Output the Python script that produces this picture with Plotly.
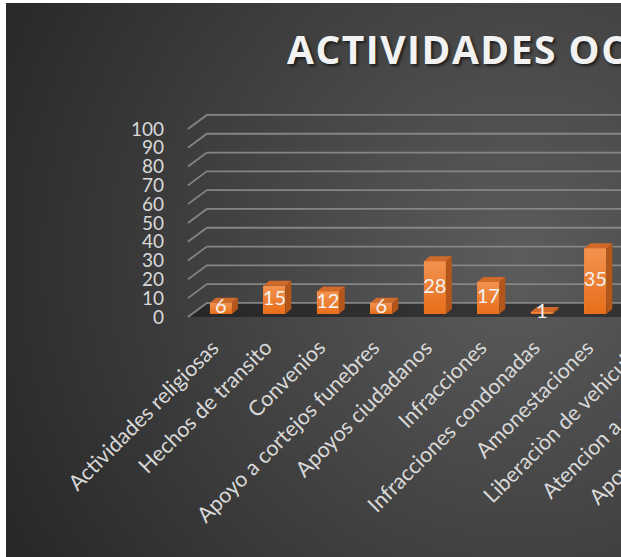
import base64
import plotly.graph_objects as go

# ---------------- data ----------------
TITLE = "ACTIVIDADES OCTUBRE"
CATEGORIES = [
    "Actividades religiosas",
    "Hechos de transito",
    "Convenios",
    "Apoyo a cortejos funebres",
    "Apoyos ciudadanos",
    "Infracciones",
    "Infracciones condonadas",
    "Amonestaciones",
    "Liberaciòn de vehiculos",
    "Atencion a ciudadanos",
    "Apoyos a dependencias",
]
VALUES = [6, 15, 12, 6, 28, 17, 1, 35]          # bars visible in the picture
Y_TICKS = [0, 10, 20, 30, 40, 50, 60, 70, 80, 90, 100]

# ---------------- style ----------------
W, H = 621, 557
FONT = "Lato"
TXT = "#d9d9d9"
ORANGE = "#ED7D31"
ORANGE_LIGHT = "#F3924F"
ORANGE_DARK = "#E76E1A"
ORANGE_TOP = "#D06A2A"
ORANGE_SIDE = "#B4561A"
GRID = "#858585"

X_RANGE = [-4.13, 7.48]       # front plane (bars)
Y_RANGE = [-127.7, 168.6]
BAR_W = 0.41
BAR_BASE = 1.6                # bars stand a little behind the front edge
SIDE_DX, SIDE_DY = 0.112, 2.66
WALL_X0, WALL_X1 = -0.617, -0.262
DEPTH_Y = 7.45
FAR_X = 20

fig = go.Figure()

idx = list(range(len(VALUES)))

# front faces
fig.add_trace(go.Bar(
    x=idx, y=VALUES, base=BAR_BASE, width=BAR_W,
    marker=dict(color=ORANGE, line=dict(width=0)),
    hoverinfo="skip", showlegend=False,
))

# gradient shading of each front face (same geometry as the bars)
for i, v in zip(idx, VALUES):
    l, r, t = i - BAR_W / 2, i + BAR_W / 2, BAR_BASE + v
    fig.add_trace(go.Scatter(
        x=[l, r, r, l, l], y=[BAR_BASE, BAR_BASE, t, t, BAR_BASE],
        mode="lines", fill="toself", line=dict(width=0),
        fillgradient=dict(type="vertical",
                          colorscale=[[0, ORANGE_DARK], [1, ORANGE_LIGHT]]),
        hoverinfo="skip", showlegend=False,
    ))

# side and top faces
side_x, side_y, top_x, top_y = [], [], [], []
for i, v in zip(idx, VALUES):
    r = i + BAR_W / 2
    l = i - BAR_W / 2
    t = BAR_BASE + v
    side_x += [r, r, r + SIDE_DX, r + SIDE_DX, r, None]
    side_y += [BAR_BASE, t, t + SIDE_DY, BAR_BASE + SIDE_DY, BAR_BASE, None]
    top_x += [l, r, r + SIDE_DX, l + SIDE_DX, l, None]
    top_y += [t, t, t + SIDE_DY, t + SIDE_DY, t, None]

fig.add_trace(go.Scatter(x=side_x, y=side_y, mode="lines", fill="toself",
                         fillcolor=ORANGE_SIDE, line=dict(width=0),
                         hoverinfo="skip", showlegend=False))
fig.add_trace(go.Scatter(x=top_x, y=top_y, mode="lines", fill="toself",
                         fillcolor=ORANGE_TOP, line=dict(width=0),
                         hoverinfo="skip", showlegend=False))

# data labels
fig.add_trace(go.Scatter(
    x=idx, y=[BAR_BASE + v / 2 for v in VALUES], mode="text",
    text=[str(v) for v in VALUES],
    textfont=dict(family=FONT, size=20, color="#f2f2f2"),
    cliponaxis=False, hoverinfo="skip", showlegend=False,
))

# floor + gridlines (below traces)
shapes = [dict(
    type="path", xref="x", yref="y", layer="below",
    path=f"M {WALL_X0},0 L {WALL_X1},{DEPTH_Y} L {FAR_X},{DEPTH_Y} L {FAR_X},0 Z",
    fillcolor="rgba(10,10,10,0.45)", line=dict(width=0),
)]
for v in Y_TICKS:
    shapes.append(dict(
        type="path", xref="x", yref="y", layer="below",
        path=f"M {WALL_X0},{v} L {WALL_X1},{v + DEPTH_Y} L {FAR_X},{v + DEPTH_Y}",
        line=dict(color=GRID, width=1.8),
    ))

# category labels, rotated and anchored at their end under each category
annotations = []
for i, name in enumerate(CATEGORIES):
    annotations.append(dict(
        text=name, xref="x", yref="paper", x=0, y=0.386,
        axref="x", ax=i, ayref="pixel", ay=0, xshift=-5,
        showarrow=True, arrowcolor="rgba(0,0,0,0)", arrowwidth=0.1,
        textangle=-45, xanchor="right", yanchor="middle",
        font=dict(family=FONT, size=21.5, color=TXT),
    ))

# background (radial gradient) as an SVG image
svg = f'''<svg xmlns="http://www.w3.org/2000/svg" width="{W}" height="{H}">
<defs><radialGradient id="g" gradientUnits="userSpaceOnUse" cx="520" cy="260" r="600">
<stop offset="0" stop-color="#5c5c5c"/><stop offset="1" stop-color="#262626"/></radialGradient></defs>
<rect width="{W}" height="{H}" fill="#ffffff"/>
<rect x="6" y="3" width="{W - 6}" height="{H - 3}" fill="url(#g)"/></svg>'''
bg_src = "data:image/svg+xml;base64," + base64.b64encode(svg.encode()).decode()

fig.update_layout(
    width=W, height=H,
    margin=dict(l=0, r=0, t=0, b=0),
    paper_bgcolor="#ffffff", plot_bgcolor="rgba(0,0,0,0)",
    images=[dict(source=bg_src, xref="paper", yref="paper", x=0, y=1,
                 sizex=1, sizey=1, xanchor="left", yanchor="top",
                 sizing="stretch", layer="below")],
    title=dict(text=TITLE, xref="container", yref="container",
               x=287 / W, xanchor="left", y=1 - 50 / H, yanchor="middle",
               font=dict(family="Open Sans", size=39, weight="bold", color="#f2f2f2",
                         shadow="2px 2px 3px rgba(0,0,0,0.6)")),
    xaxis=dict(range=X_RANGE, domain=[0, 1], visible=False, fixedrange=True),
    yaxis=dict(range=Y_RANGE, domain=[0, 1], anchor="free", position=166 / W,
               tickvals=Y_TICKS, showgrid=False, zeroline=False, showline=False,
               ticks="", ticklabelstandoff=2, fixedrange=True,
               tickfont=dict(family=FONT, size=19, color=TXT)),
    shapes=shapes, annotations=annotations, bargap=0,
    showlegend=False,
)

CSS = "body{margin:0;overflow:hidden} .gtitle{letter-spacing:1.5px}"
fig.write_html(
    "out.html",
    config={"displayModeBar": False, "staticPlot": True},
    post_script=("var s=document.createElement('style');"
                 f"s.textContent='{CSS}';document.head.appendChild(s);"),
)
